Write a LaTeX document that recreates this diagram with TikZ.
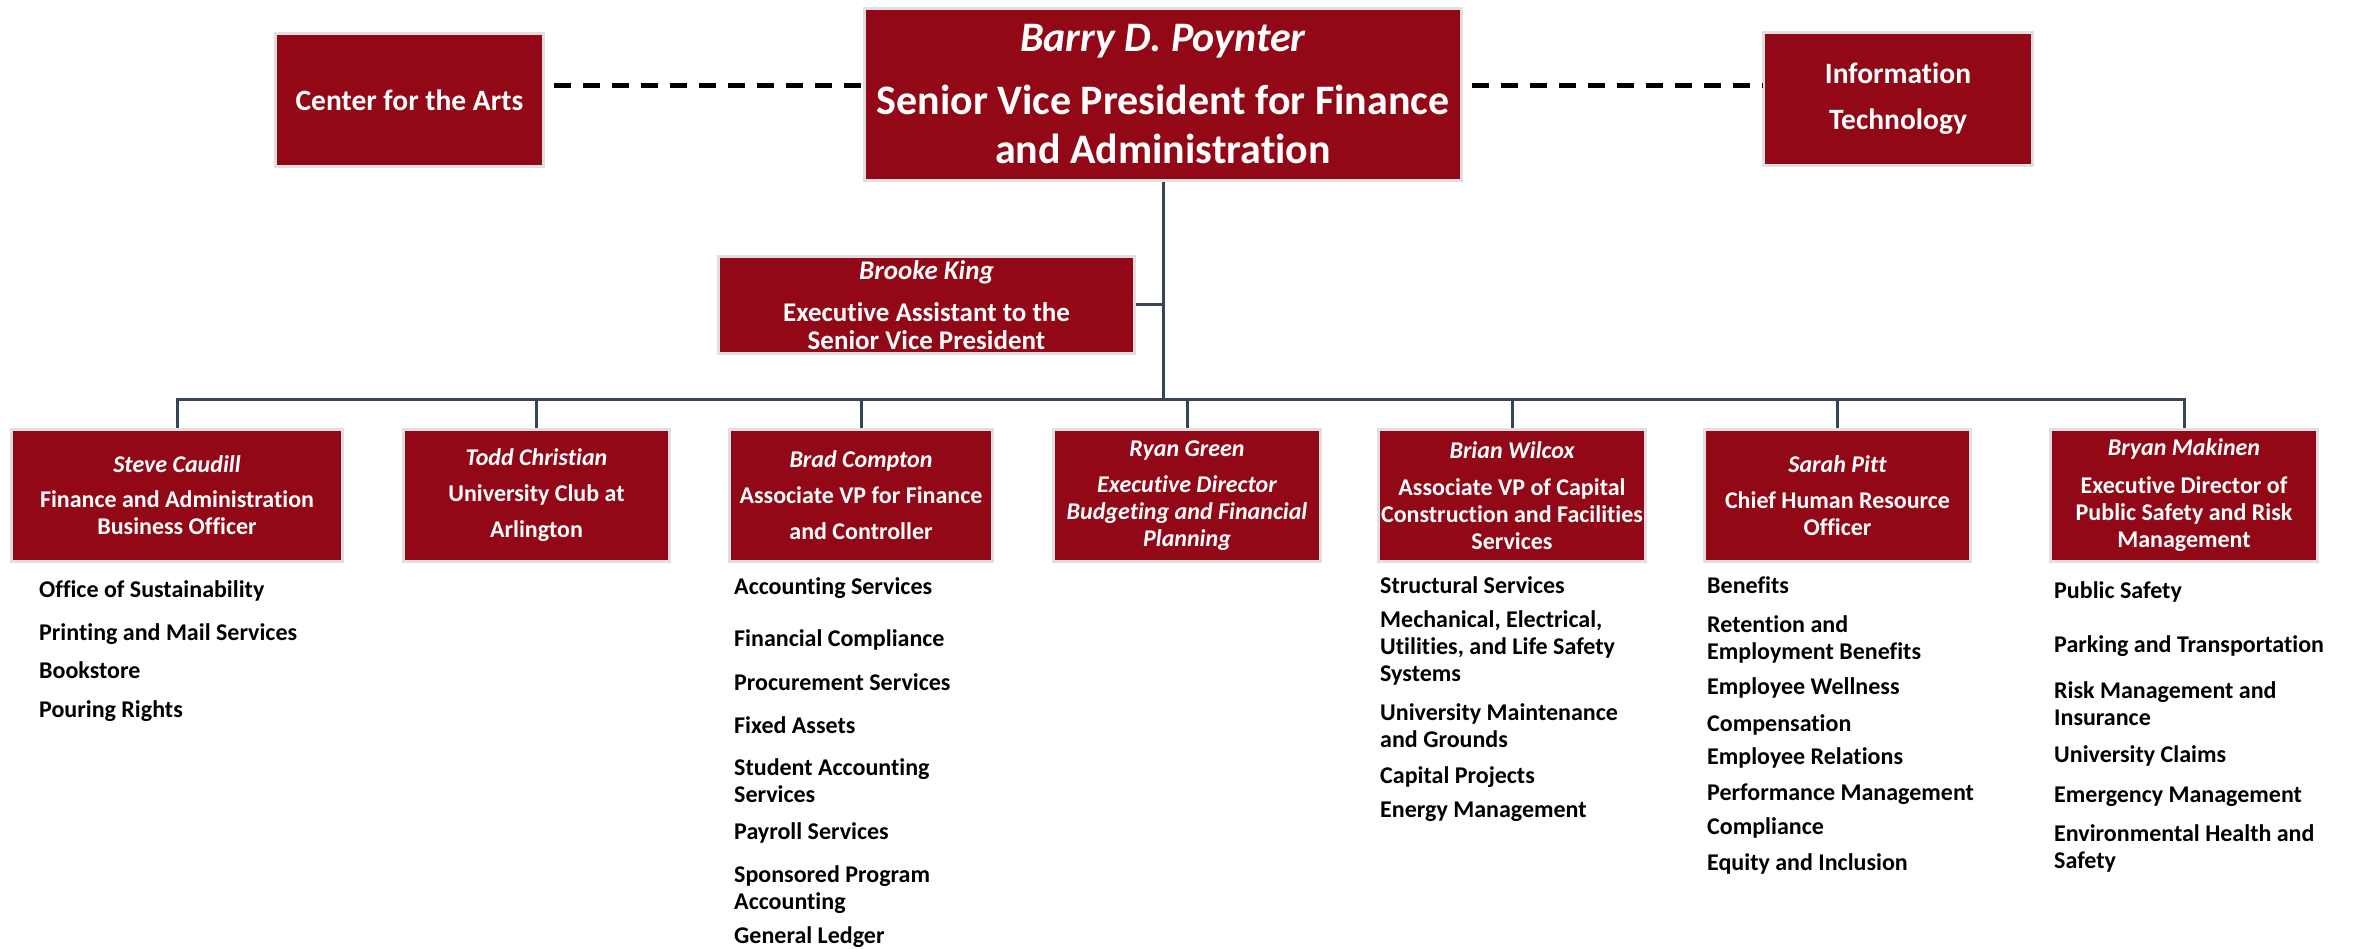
\documentclass[tikz,border=0pt]{standalone}
\usepackage{fontspec}
\setmainfont{Carlito}[Ligatures=NoCommon]
\usetikzlibrary{positioning}
\definecolor{boxred}{RGB}{146,8,22}
\definecolor{boxedge}{RGB}{224,224,224}
\definecolor{orgline}{RGB}{55,67,86}

\begin{document}
\begin{tikzpicture}[x=1pt,y=-1pt,
  unit/.style={draw=boxedge,line width=2.5pt,fill=boxred,text=white,align=center,inner sep=0pt,
    font=\bfseries\fontsize{24}{27}\selectfont},
  tie/.style={draw=orgline,line width=3pt},
  dashlink/.style={black,line width=5pt,dash pattern=on 17pt off 12pt,dash phase=20pt},
  duty/.style={anchor=base west,align=left,inner sep=0pt,font=\bfseries\fontsize{24}{27}\selectfont}]
  \useasboundingbox (0,0) rectangle (2354,949);
  % top row
  \node[unit,minimum width=597pt,minimum height=172pt,font=\bfseries\fontsize{42}{49}\selectfont] (svp) at (1163,94.5)
    {{\itshape Barry D. Poynter}\\[14pt]Senior Vice President for Finance\\and Administration};
  \node[unit,minimum width=268pt,minimum height=133pt,font=\bfseries\fontsize{29.5}{32}\selectfont] (arts) at (409.5,100){Center for the Arts};
  \node[unit,minimum width=269pt,minimum height=133pt,font=\bfseries\fontsize{29.5}{46}\selectfont] (it) at (1898,99){Information\\Technology};
  \node[unit,minimum width=416pt,minimum height=97pt,font=\bfseries\fontsize{27}{28}\selectfont] (assist) at (926.5,305)
    {{\itshape Brooke King}\\[14pt]Executive Assistant to the\\Senior Vice President};
  % direct reports
  \node[unit,minimum width=331pt,minimum height=132pt] (caudill) at (177,495.5)
    {{\itshape Steve Caudill}\\[8pt]Finance and Administration\\Business Officer};
  \node[unit,minimum width=266pt,minimum height=132pt] (christian) at (536.5,495.5)
    {{\itshape Todd Christian}\\[9pt]University Club at\\[9pt]Arlington};
  \node[unit,minimum width=263pt,minimum height=132pt] (compton) at (861,495.5)
    {{\itshape Brad Compton}\\[9pt]Associate VP for Finance\\[9pt]and Controller};
  \node[unit,minimum width=267pt,minimum height=132pt,font=\bfseries\itshape\fontsize{24}{27}\selectfont] (green) at (1187,495.5)
    {Ryan Green\\[9pt]Executive Director\\Budgeting and Financial\\Planning};
  \node[unit,minimum width=267pt,minimum height=132pt] (wilcox) at (1512,495.5)
    {{\itshape Brian Wilcox}\\[10pt]Associate VP of Capital\\Construction and Facilities\\Services};
  \node[unit,minimum width=266pt,minimum height=132pt] (pitt) at (1837.5,495.5)
    {{\itshape Sarah Pitt}\\[9pt]Chief Human Resource\\Officer};
  \node[unit,minimum width=267pt,minimum height=132pt] (makinen) at (2184,495.5)
    {{\itshape Bryan Makinen}\\[11pt]Executive Director of\\Public Safety and Risk\\Management};
  % connectors
  \coordinate (bus) at (1163,400);
  \draw[tie] (svp.south) -- (bus);
  \draw[tie] (assist.east) -- (assist.east -| svp.south);
  \foreach \c in {caudill,christian,compton,green,wilcox,pitt,makinen}
    \draw[tie] (\c.north) |- (bus);
  \coordinate (dashL) at ([yshift=14pt]arts.east);
  \coordinate (dashR) at ([yshift=13pt]it.west);
  \draw[dashlink] (dashL) -- (dashL -| svp.west);
  \draw[dashlink] (dashR -| svp.east) -- (dashR);
  % duty lists (y = baseline of last line)
  \foreach \yy/\txt [count=\n] in {597/Office of Sustainability,640/Printing and Mail Services,678/Bookstore,717/Pouring Rights}
    \node[duty] (caudill-\n) at (39,\yy){\txt};
  \foreach \yy/\txt [count=\n] in {594/Accounting Services,646/Financial Compliance,690/Procurement Services,733/Fixed Assets,
      802/{Student Accounting\\Services},839/Payroll Services,909/{Sponsored Program\\Accounting},943/General Ledger}
    \node[duty] (compton-\n) at (734,\yy){\txt};
  \foreach \yy/\txt [count=\n] in {593/Structural Services,681/{Mechanical, Electrical,\\Utilities, and Life Safety\\Systems},
      747/{University Maintenance\\and Grounds},783/Capital Projects,817/Energy Management}
    \node[duty] (wilcox-\n) at (1380,\yy){\txt};
  \foreach \yy/\txt [count=\n] in {593/Benefits,659/{Retention and\\Employment Benefits},694/Employee Wellness,731/Compensation,
      764/Employee Relations,800/Performance Management,834/Compliance,870/Equity and Inclusion}
    \node[duty] (pitt-\n) at (1707,\yy){\txt};
  \foreach \yy/\txt [count=\n] in {598/Public Safety,652/Parking and Transportation,725/{Risk Management and\\Insurance},
      762/University Claims,802/Emergency Management,868/{Environmental Health and\\Safety}}
    \node[duty] (makinen-\n) at (2054,\yy){\txt};
\end{tikzpicture}
\end{document}
